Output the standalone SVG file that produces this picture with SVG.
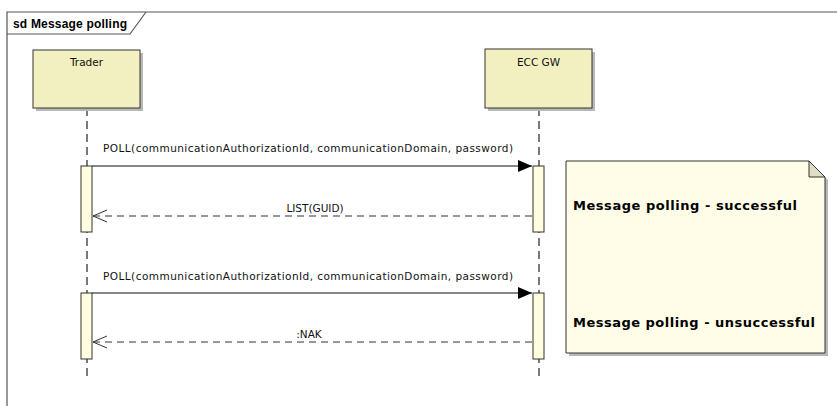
<svg xmlns="http://www.w3.org/2000/svg" width="837" height="406" viewBox="0 0 837 406">
<style>
.frame{fill:none;stroke:#555;stroke-width:1.2}
.life{stroke:#333;stroke-width:1.3;stroke-dasharray:8,5}
.head{fill:#f2f0c0;stroke:#333;stroke-width:1}
.shadow{fill:#b8b8b8}
.act{fill:#fffde0;stroke:#333;stroke-width:1}
.msg{stroke:#111;stroke-width:1.1;fill:none}
.ret{stroke:#333;stroke-width:1.2;fill:none;stroke-dasharray:7,5}
.t{font-family:"DejaVu Sans",Verdana,sans-serif;font-size:10.5px;fill:#111}
.tb{font-family:"DejaVu Sans",Verdana,sans-serif;font-size:13px;font-weight:bold;fill:#000}
</style>
<defs>
<marker id="fill" markerWidth="14" markerHeight="12" refX="14" refY="6" orient="auto" markerUnits="userSpaceOnUse">
<path d="M0,0 L14,6 L0,12 z" fill="#000"/>
</marker>
<marker id="open" markerWidth="15" markerHeight="14" refX="14" refY="7" orient="auto" markerUnits="userSpaceOnUse">
<path d="M0,1 L14,7 L0,13" fill="none" stroke="#333" stroke-width="1"/>
</marker>
</defs>
<rect width="837" height="406" fill="#fff"/>
<g id="frame">
<path class="frame" d="M7,406 L7,12 L837,12"/>
<path class="frame" d="M7,34 L130,34 L146,12"/>
<text x="13" y="28" font-family="Liberation Sans,Arial,sans-serif" font-size="12" font-weight="bold" textLength="114">sd Message polling</text>
</g>
<g id="trader">
<line class="life" x1="87" y1="108" x2="87" y2="381"/>
<rect class="shadow" x="36" y="53" width="107" height="58"/>
<rect class="head" x="33" y="50" width="107" height="58"/>
<text class="t" x="86.5" y="66" text-anchor="middle" font-size="11">Trader</text>
<rect class="act" x="81" y="166" width="11" height="66"/>
<rect class="act" x="81" y="293" width="11" height="66"/>
</g>
<g id="eccgw">
<line class="life" x1="539" y1="108" x2="539" y2="381"/>
<rect class="shadow" x="488" y="52" width="107" height="59"/>
<rect class="head" x="485" y="49" width="107" height="59"/>
<text class="t" x="538.5" y="66" text-anchor="middle" font-size="11">ECC GW</text>
<rect class="act" x="533" y="166" width="11" height="66"/>
<rect class="act" x="533" y="293" width="11" height="66"/>
</g>
<g id="note">
<path d="M569,164 L812,164 L828,180 L828,356 L569,356 z" fill="#b8b8b8"/>
<path d="M566,161 L809,161 L825,177 L825,353 L566,353 z" fill="#fffde8" stroke="#333" stroke-width="1"/>
<path d="M809,161 L809,177 L825,177 z" fill="#ddddc8" stroke="#333" stroke-width="1"/>
<text class="tb" x="573" y="210" textLength="224">Message polling - successful</text>
<text class="tb" x="573" y="327" textLength="242">Message polling - unsuccessful</text>
</g>
<g id="connectors">
<line class="msg" x1="92" y1="166" x2="532" y2="166" marker-end="url(#fill)"/>
<text class="t" x="103" y="152" textLength="410">POLL(communicationAuthorizationId, communicationDomain, password)</text>
<line class="ret" x1="532" y1="216" x2="93" y2="216" marker-end="url(#open)"/>
<text class="t" x="315" y="212" text-anchor="middle">LIST(GUID)</text>
<line class="msg" x1="92" y1="293" x2="532" y2="293" marker-end="url(#fill)"/>
<text class="t" x="103" y="280" textLength="410">POLL(communicationAuthorizationId, communicationDomain, password)</text>
<line class="ret" x1="532" y1="342" x2="93" y2="342" marker-end="url(#open)"/>
<text class="t" x="309" y="338" text-anchor="middle">:NAK</text>
</g>
</svg>
